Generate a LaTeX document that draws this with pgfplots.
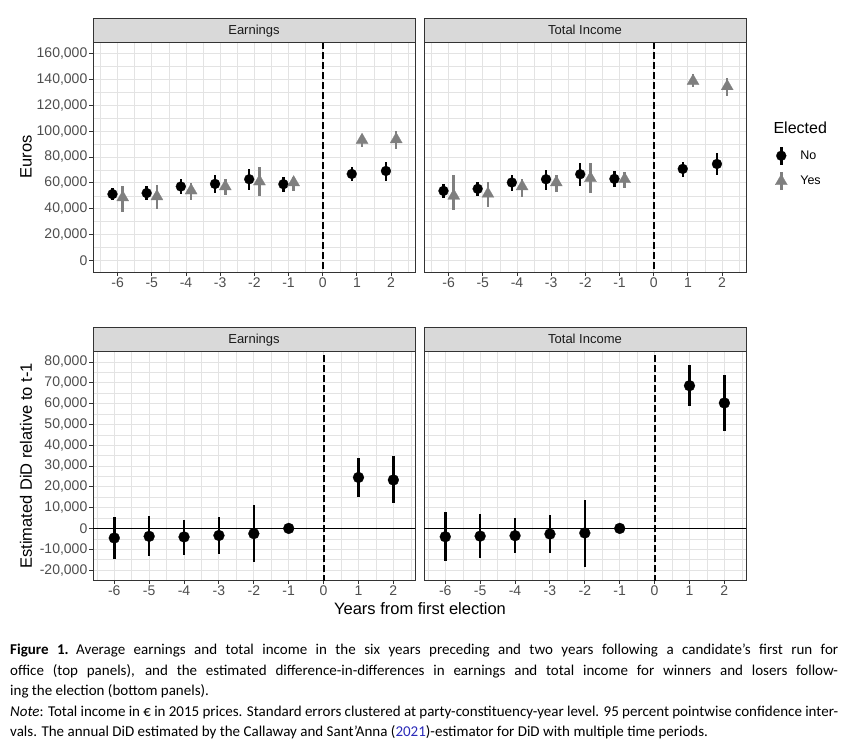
\documentclass[border=0pt]{standalone}
\usepackage{pgfplots}
\pgfplotsset{compat=1.18}
\usepackage{pgfplotstable}
\usepackage{fontspec}
\setmainfont{Liberation Sans}
\newfontfamily\capfont{Carlito}
\definecolor{grey10}{HTML}{1A1A1A}
\definecolor{grey20}{HTML}{333333}
\definecolor{grey30}{HTML}{4D4D4D}
\definecolor{grey50}{HTML}{7F7F7F}
\definecolor{grey85}{HTML}{D9D9D9}
\definecolor{grey92}{HTML}{E3E3E3}
\definecolor{linkblue}{HTML}{2A2AB8}

% Earnings, not elected
\pgfplotstableread{
x y lo hi
-6 51300 46400 56400
-5 52100 46900 57200
-4 57200 51300 62800
-3 59200 52100 66200
-2 62800 54600 70800
-1 59000 52800 64400
1 66900 61500 72600
2 69200 61800 76400
}\earnNo
% Earnings, elected
\pgfplotstableread{
x y lo hi
-6 48700 37400 57200
-5 49500 39700 58500
-4 54100 46900 59700
-3 57200 50300 62800
-2 61000 49500 72000
-1 60300 53800 64900
1 93100 87400 97400
2 93600 86200 100000
}\earnYes
% Total income, not elected
\pgfplotstableread{
x y lo hi
-6 53800 48200 59000
-5 55400 49500 61000
-4 60300 53800 66200
-3 62800 54600 70000
-2 66700 57200 75600
-1 63100 56700 69500
1 70800 64800 76400
2 74600 66200 82800
}\incNo
% Total income, elected
\pgfplotstableread{
x y lo hi
-6 50000 38700 66200
-5 51500 41000 61000
-4 57200 49000 63100
-3 60300 52600 66200
-2 63600 52100 75100
-1 62800 56400 68200
1 138700 134100 144400
2 134600 127200 141300
}\incYes
% DiD earnings
\pgfplotstableread{
x y lo hi
-6 -4600 -14600 5300
-5 -3800 -13500 5800
-4 -4100 -12600 4200
-3 -3400 -12200 5600
-2 -2500 -16200 11200
-1 0 0 0
1 24500 15200 33700
2 23300 12000 34600
}\didEarn
% DiD total income
\pgfplotstableread{
x y lo hi
-6 -4000 -15700 7900
-5 -3700 -14100 6900
-4 -3500 -11800 4800
-3 -2700 -11800 6600
-2 -2200 -18700 13800
-1 0 0 0
1 68600 58700 78400
2 60300 47000 73600
}\didInc

\tikzset{vdash/.style={black, line width=2pt, dash pattern=on 7pt off 3pt}}
\pgfplotsset{
  panel/.style={
    scale only axis, width=322pt,
    axis line style={grey20, line width=0.9pt},
    xmajorgrids, ymajorgrids, xminorgrids, yminorgrids,
    major grid style={grey92, line width=0.9pt},
    minor grid style={grey92, line width=0.45pt},
    tick align=outside, tick pos=left,
    tick style={grey20, line width=0.9pt},
    major tick length=4pt, minor tick length=0pt,
    xtick={-6,-5,-4,-3,-2,-1,0,1,2},
    xticklabels={-6,-5,-4,-3,-2,-1,0,1,2},
    minor xtick={-6.5,-5.5,-4.5,-3.5,-2.5,-1.5,-0.5,0.5,1.5,2.5},
    tick label style={font=\fontsize{14}{16}\selectfont, text=grey30},
    yticklabel style={inner xsep=1.5pt},
    xticklabel style={inner ysep=2pt},
    scaled y ticks=false,
    error bars/y dir=both, error bars/y explicit, error bars/error mark=none,
    error bars/error bar style={line width=2.5pt},
  },
  prleg/.style={legend image code/.code={
      \draw[##1, mark=none, line width=2.5pt] (0pt,-9pt) -- (0pt,9pt);
      \draw[##1] plot coordinates {(0pt,0pt)};}},
  noS/.style={black, only marks, mark=*, mark size=5pt, mark options={fill=black, draw=black, line width=0.2pt}, prleg},
  yesS/.style={grey50, only marks, mark=triangle*, mark size=7pt, mark options={fill=grey50, draw=grey50, line width=0.2pt}, prleg},
  didS/.style={black, only marks, mark=*, mark size=5.5pt, mark options={fill=black, draw=black, line width=0.2pt}},
}

\begin{document}
\begin{tikzpicture}
\useasboundingbox (0pt,0pt) rectangle (846pt,740pt);

% ---------- top left ----------
\begin{axis}[panel, at={(93pt,468pt)}, anchor=south west, height=230pt,
  xmin=-6.72, xmax=2.70, ymin=-8900, ymax=168900,
  ytick={0,20000,40000,60000,80000,100000,120000,140000,160000},
  yticklabels={0,{20,000},{40,000},{60,000},{80,000},{100,000},{120,000},{140,000},{160,000}},
  minor ytick={10000,30000,50000,70000,90000,110000,130000,150000}]
\draw[vdash] (0,-300000) -- (0,300000);
\addplot[noS] table[x expr=\thisrow{x}-0.15, y=y, y error plus expr=\thisrow{hi}-\thisrow{y}, y error minus expr=\thisrow{y}-\thisrow{lo}] {\earnNo};
\addplot[yesS] table[x expr=\thisrow{x}+0.15, y=y, y error plus expr=\thisrow{hi}-\thisrow{y}, y error minus expr=\thisrow{y}-\thisrow{lo}] {\earnYes};
\end{axis}

% ---------- top right ----------
\begin{axis}[panel, at={(424pt,468pt)}, anchor=south west, height=230pt,
  xmin=-6.72, xmax=2.70, ymin=-8900, ymax=168900,
  ytick={0,20000,40000,60000,80000,100000,120000,140000,160000},
  yticklabels={}, ytick style={draw=none},
  minor ytick={10000,30000,50000,70000,90000,110000,130000,150000},
  legend style={at={(1,0.45)}, anchor=west, xshift=26pt, draw=none, fill=none,
    font=\fontsize{12.5}{14}\selectfont, row sep=5pt,
    /tikz/every odd column/.append style={column sep=11pt}},
  legend cell align=left]
\draw[vdash] (0,-300000) -- (0,300000);
\addplot[noS] table[x expr=\thisrow{x}-0.15, y=y, y error plus expr=\thisrow{hi}-\thisrow{y}, y error minus expr=\thisrow{y}-\thisrow{lo}] {\incNo};
\addlegendentry{No}
\addplot[yesS] table[x expr=\thisrow{x}+0.15, y=y, y error plus expr=\thisrow{hi}-\thisrow{y}, y error minus expr=\thisrow{y}-\thisrow{lo}] {\incYes};
\addlegendentry{Yes}
\end{axis}

% ---------- bottom left ----------
\begin{axis}[panel, at={(93pt,160pt)}, anchor=south west, height=228.3pt,
  xmin=-6.61, xmax=2.62, ymin=-24800, ymax=84950,
  ytick={-20000,-10000,0,10000,20000,30000,40000,50000,60000,70000,80000},
  yticklabels={{-20,000},{-10,000},0,{10,000},{20,000},{30,000},{40,000},{50,000},{60,000},{70,000},{80,000}},
  minor ytick={-15000,-5000,5000,15000,25000,35000,45000,55000,65000,75000}]
\draw[black, line width=1.2pt] (-10,0) -- (10,0);
\draw[vdash] (0,-300000) -- (0,300000);
\addplot[didS] table[x=x, y=y, y error plus expr=\thisrow{hi}-\thisrow{y}, y error minus expr=\thisrow{y}-\thisrow{lo}] {\didEarn};
\end{axis}

% ---------- bottom right ----------
\begin{axis}[panel, at={(424pt,160pt)}, anchor=south west, height=228.3pt,
  xmin=-6.61, xmax=2.62, ymin=-24800, ymax=84950,
  ytick={-20000,-10000,0,10000,20000,30000,40000,50000,60000,70000,80000},
  yticklabels={}, ytick style={draw=none},
  minor ytick={-15000,-5000,5000,15000,25000,35000,45000,55000,65000,75000}]
\draw[black, line width=1.2pt] (-10,0) -- (10,0);
\draw[vdash] (0,-300000) -- (0,300000);
\addplot[didS] table[x=x, y=y, y error plus expr=\thisrow{hi}-\thisrow{y}, y error minus expr=\thisrow{y}-\thisrow{lo}] {\didInc};
\end{axis}

% ---------- strips ----------
\tikzset{strip/.style={fill=grey85, draw=grey20, line width=0.9pt},
         striptext/.style={font=\fontsize{13}{15}\selectfont, text=grey10, anchor=base, inner sep=0pt}}
\filldraw[strip] (93pt,698pt) rectangle (415pt,722pt);
\filldraw[strip] (424pt,698pt) rectangle (746pt,722pt);
\filldraw[strip] (93pt,388.3pt) rectangle (415pt,413pt);
\filldraw[strip] (424pt,388.3pt) rectangle (746pt,413pt);
\node[striptext] at (254pt,705.5pt) {Earnings};
\node[striptext] at (585pt,705.5pt) {Total Income};
\node[striptext] at (254pt,396pt) {Earnings};
\node[striptext] at (585pt,396pt) {Total Income};

% ---------- axis titles ----------
\node[rotate=90, font=\fontsize{16.5}{18}\selectfont] at (26pt,583pt) {Euros};
\node[rotate=90, font=\fontsize{16.5}{18}\selectfont] at (26pt,274pt) {Estimated DiD relative to t-1};
\node[font=\fontsize{16.5}{18}\selectfont] at (420pt,131pt) {Years from first election};
\node[anchor=west, font=\fontsize{16}{18}\selectfont] at (770pt,612pt) {Elected};

% ---------- caption ----------
\node[anchor=north west, inner sep=0pt, text width=828pt, align=justify,
      font=\capfont\fontsize{15}{20.5}\selectfont] at (10pt,96pt)
{\parindent=0pt\hyphenpenalty=10000
\textbf{Figure 1.}\enspace Average earnings and total income in the six years preceding and two years following a candidate’s first run for\linebreak
office (top panels), and the estimated difference-in-differences in earnings and total income for winners and losers follow-\linebreak
ing the election (bottom panels).\par
\textit{Note}: Total income in € in 2015 prices. Standard errors clustered at party-constituency-year level. 95~percent pointwise confidence inter-\linebreak
vals. The annual DiD estimated by the Callaway and Sant’Anna (\textcolor{linkblue}{2021})-estimator for DiD with multiple time periods.};
\end{tikzpicture}
\end{document}
